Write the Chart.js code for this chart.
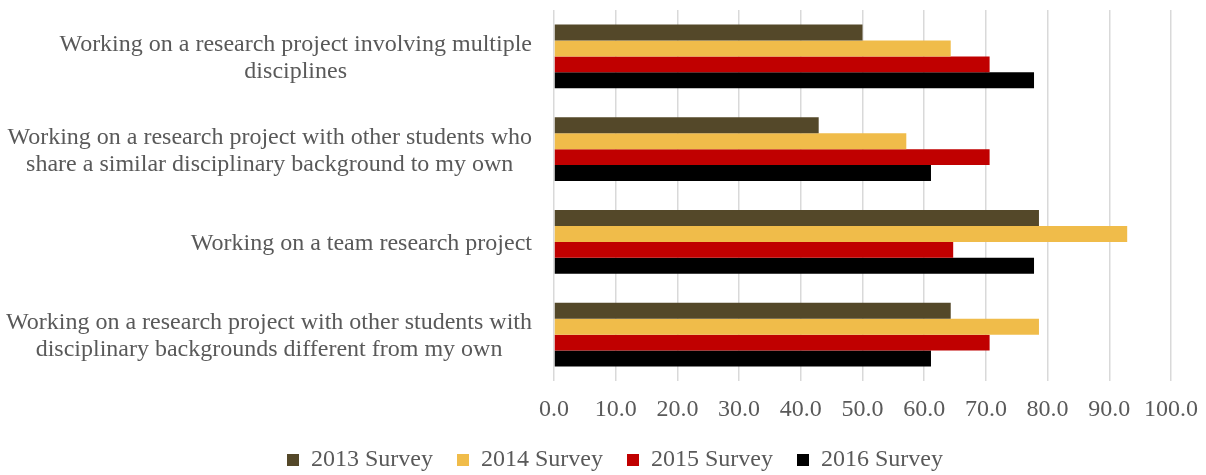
<!DOCTYPE html>
<html>
<head>
<meta charset="utf-8">
<script src="https://cdn.jsdelivr.net/npm/chart.js@4/dist/chart.umd.min.js"></script>
<style>
  html, body { margin: 0; padding: 0; background: #fff; overflow: hidden; }
  #wrap { width: 1206px; height: 475px; position: relative; }
</style>
</head>
<body>
<div id="wrap"><canvas id="cBars"></canvas></div>
<script>
// categorias (rótulos em várias linhas)
const categorias = [
  ["Working on a research project involving multiple", "disciplines"],
  ["Working on a research project with other students who", "share a similar disciplinary background to my own"],
  ["Working on a team research project"],
  ["Working on a research project with other students with", "disciplinary backgrounds different from my own"]
];

const seriesNomes = ["2013 Survey", "2014 Survey", "2015 Survey", "2016 Survey"];
const seriesCores = ["#544829", "#F0BC4A", "#C00000", "#000000"];

const v2013 = [50.0, 42.9, 78.6, 64.3];
const v2014 = [64.3, 57.1, 92.9, 78.6];
const v2015 = [70.6, 70.6, 64.7, 70.6];
const v2016 = [77.8, 61.1, 77.8, 61.1];

const eixoMin = 0, eixoMax = 100, eixoPasso = 10;

const valores = [v2013, v2014, v2015, v2016];
const fonte = "'Liberation Serif', 'Times New Roman', serif";
const cinza = "#595959";
const margemEsq = 59;
const alturaLinha = 27;

/* rótulos do eixo Y centralizados linha a linha (o Chart.js alinha tudo à direita) */
const rotulosCentrados = {
  id: "rotulosCentrados",
  afterDraw(chart) {
    const eixo = chart.scales.y;
    const ctx = chart.ctx;
    ctx.save();
    ctx.font = "24px " + fonte;
    ctx.fillStyle = cinza;
    ctx.textAlign = "center";
    ctx.textBaseline = "middle";
    categorias.forEach((linhas, i) => {
      const yc = eixo.getPixelForValue(i);
      const larg = Math.max(...linhas.map(l => ctx.measureText(l).width));
      const xc = eixo.right - 22 - larg / 2;
      linhas.forEach((l, k) => {
        ctx.fillText(l, xc, yc + 2 + (k - (linhas.length - 1) / 2) * alturaLinha);
      });
    });
    ctx.restore();
  }
};

new Chart(document.getElementById("cBars"), {
  type: "bar",
  data: {
    labels: categorias,
    datasets: seriesNomes.map((nome, i) => ({
      label: nome,
      data: valores[i],
      backgroundColor: seriesCores[i],
      borderWidth: 0,
      categoryPercentage: 0.69,
      barPercentage: 1.0
    }))
  },
  plugins: [rotulosCentrados],
  options: {
    indexAxis: "y",
    responsive: true,
    maintainAspectRatio: false,
    animation: false,
    layout: { padding: { left: margemEsq, right: 35, top: 10, bottom: -7 } },
    plugins: {
      tooltip: { enabled: false },
      legend: {
        position: "bottom",
        labels: {
          color: cinza,
          font: { family: fonte, size: 24 },
          boxWidth: 12,
          boxHeight: 12,
          padding: 24
        }
      }
    },
    scales: {
      x: {
        min: eixoMin,
        max: eixoMax,
        border: { display: false },
        grid: { color: "#d9d9d9", lineWidth: 1.5, drawTicks: false },
        ticks: {
          stepSize: eixoPasso,
          color: cinza,
          font: { family: fonte, size: 24, lineHeight: "30px" },
          padding: 14,
          maxRotation: 0,
          callback: v => v.toFixed(1)
        },
        afterFit: s => {
          s.height = 43;
          s.paddingLeft = 0;
          s.paddingRight = 0;
        }
      },
      y: {
        border: { display: false },
        grid: { display: false, drawTicks: false },
        ticks: { display: false },
        afterFit: s => {
          s.width = 554 - margemEsq;
          s.paddingTop = 0;
          s.paddingBottom = 0;
        }
      }
    }
  }
});
</script>
</body>
</html>
